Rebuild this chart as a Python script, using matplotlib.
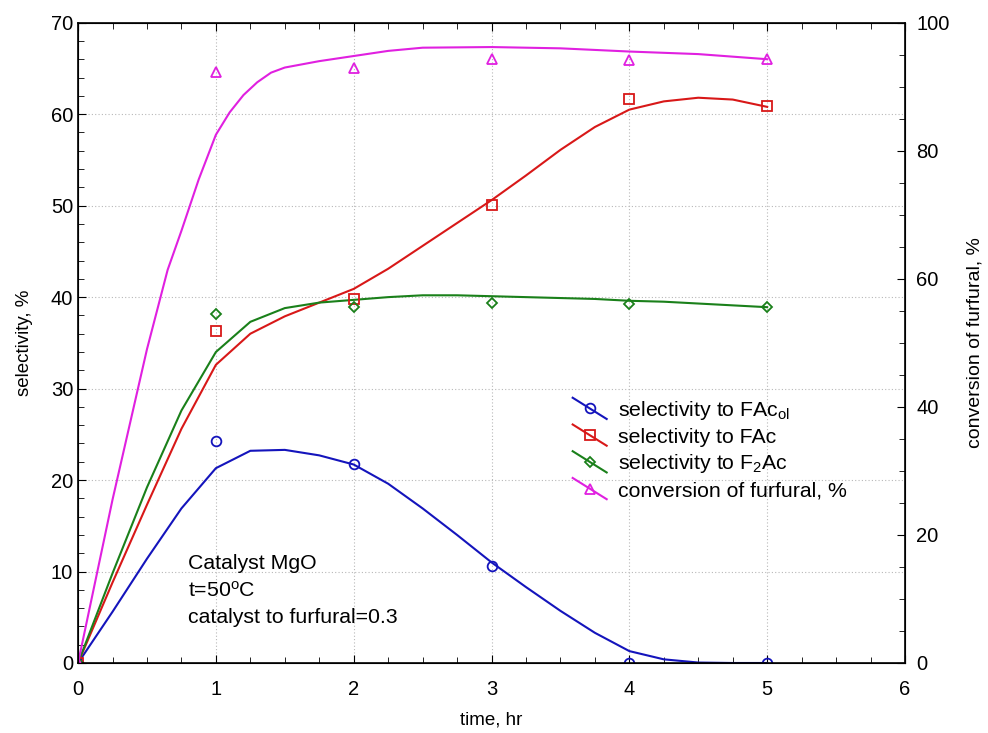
import matplotlib
matplotlib.use("Agg")
import matplotlib.pyplot as plt
import numpy as np
from matplotlib.legend_handler import HandlerLine2D
from matplotlib.lines import Line2D
from matplotlib.ticker import MultipleLocator

plt.rcParams['font.family'] = ['Liberation Sans', 'DejaVu Sans']
plt.rcParams['mathtext.fontset'] = 'custom'
plt.rcParams['mathtext.rm'] = 'Liberation Sans'
plt.rcParams['mathtext.it'] = 'Liberation Sans'

# measured points
t_pts = [0, 1, 2, 3, 4, 5]
fac_ol = [0, 24.3, 21.8, 10.6, 0, 0]
fac = [0, 36.3, 39.8, 50.1, 61.7, 60.9]
f2ac = [0, 38.2, 38.9, 39.4, 39.2, 38.9]
conv = [0, 92.3, 92.9, 94.4, 94.2, 94.4]

# fitted curves
t_c = [0, 0.25, 0.5, 0.75, 1, 1.25, 1.5, 1.75, 2, 2.25, 2.5, 2.75, 3, 3.25, 3.5,
       3.75, 4, 4.25, 4.5, 4.75, 5]
fac_ol_c = [0, 5.6, 11.4, 16.9, 21.3, 23.2, 23.3, 22.7, 21.7, 19.6, 16.9, 14.0,
            11.0, 8.3, 5.7, 3.3, 1.3, 0.4, 0.05, 0, 0]
fac_c = [0, 8.8, 17.3, 25.6, 32.6, 36.0, 37.9, 39.4, 40.9, 43.1, 45.6, 48.1,
         50.6, 53.3, 56.1, 58.6, 60.5, 61.4, 61.8, 61.6, 60.8]
f2ac_c = [0, 9.8, 19.2, 27.6, 34.0, 37.3, 38.8, 39.4, 39.7, 40.0, 40.2, 40.2,
          40.1, 40.0, 39.9, 39.8, 39.6, 39.5, 39.3, 39.1, 38.9]
t_conv_c = [0, 0.25, 0.5, 0.65, 0.75, 0.875, 1, 1.1, 1.2, 1.3, 1.4, 1.5, 1.75,
            2, 2.25, 2.5, 3, 3.5, 4, 4.5, 5]
conv_c = [0, 25.5, 49.0, 61.4, 67.5, 75.5, 82.5, 86.0, 88.7, 90.7, 92.2, 93.0,
          94.0, 94.8, 95.6, 96.1, 96.2, 96.0, 95.5, 95.1, 94.3]

labels = ['selectivity to FAc$_{\\mathrm{ol}}$', 'selectivity to FAc',
          'selectivity to F$_{2}$Ac', 'conversion of furfural, %']
note = ['Catalyst MgO', 't=50$^{\\mathrm{o}}$C', 'catalyst to furfural=0.3']

c_blue = '#1414bc'
c_red = '#d81818'
c_green = '#1a801a'
c_mag = '#e020e0'


class DiagHandler(HandlerLine2D):
    # diagonal legend key with marker in the middle
    def create_artists(self, legend, orig_handle, xdescent, ydescent,
                       width, height, fontsize, trans):
        x0, x1 = -xdescent, -xdescent + width
        ytop = -ydescent + height + 0.15 * fontsize
        ybot = -ydescent - 0.15 * fontsize
        ln = Line2D([x0, x1], [ytop, ybot])
        self.update_prop(ln, orig_handle, legend)
        ln.set_marker('None')
        mk = Line2D([(x0 + x1) / 2], [(ytop + ybot) / 2])
        self.update_prop(mk, orig_handle, legend)
        mk.set_linestyle('None')
        ln.set_transform(trans)
        mk.set_transform(trans)
        return [ln, mk]


fig = plt.figure(figsize=(9.88, 7.33), dpi=100)
ax = fig.add_axes([0.079, 0.0955, 0.837, 0.8735])
ax2 = ax.twinx()

lw = 1.5
ms = 7
mew = 1.3
ax.plot(t_c, fac_ol_c, color=c_blue, lw=lw)
ax.plot(t_c, fac_c, color=c_red, lw=lw)
ax.plot(t_c, f2ac_c, color=c_green, lw=lw)
ax2.plot(t_conv_c, conv_c, color=c_mag, lw=lw)

ax.plot(t_pts, fac_ol, 'o', mfc='none', mec=c_blue, ms=ms, mew=mew)
ax.plot(t_pts, fac, 's', mfc='none', mec=c_red, ms=ms, mew=mew)
ax.plot(t_pts, f2ac, 'D', mfc='none', mec=c_green, ms=ms - 1.5, mew=mew)
ax2.plot(t_pts, conv, '^', mfc='none', mec=c_mag, ms=ms, mew=mew)

handles = [
    Line2D([], [], color=c_blue, lw=lw, marker='o', mfc='none', mec=c_blue, ms=ms, mew=mew),
    Line2D([], [], color=c_red, lw=lw, marker='s', mfc='none', mec=c_red, ms=ms, mew=mew),
    Line2D([], [], color=c_green, lw=lw, marker='D', mfc='none', mec=c_green, ms=ms - 1.5, mew=mew),
    Line2D([], [], color=c_mag, lw=lw, marker='^', mfc='none', mec=c_mag, ms=ms, mew=mew),
]
leg = ax.legend(handles, labels, loc='upper left', bbox_to_anchor=(0.575, 0.4425),
                frameon=False, fontsize=15.3, handlelength=1.6, handletextpad=0.55,
                labelspacing=0.27, borderpad=0.4,
                handler_map={Line2D: DiagHandler()})

ax.text(0.133, 0.17, '\n'.join(note), transform=ax.transAxes, fontsize=15.3,
        va='top', ha='left', linespacing=1.47)

ax.set_xlim(0, 6)
ax.set_ylim(0, 70)
ax2.set_ylim(0, 100)
ax.xaxis.set_major_locator(MultipleLocator(1))
ax.xaxis.set_minor_locator(MultipleLocator(0.25))
ax.yaxis.set_major_locator(MultipleLocator(10))
ax.yaxis.set_minor_locator(MultipleLocator(2))
ax2.yaxis.set_major_locator(MultipleLocator(20))
ax2.yaxis.set_minor_locator(MultipleLocator(5))

ax.tick_params(which='both', direction='in', top=True, right=False, labelsize=14.5)
ax.tick_params(which='major', length=6)
ax.tick_params(which='minor', length=4)
ax.tick_params(axis='x', pad=12)
ax2.tick_params(which='both', direction='in', labelsize=14.5)
ax2.tick_params(which='major', length=6)
ax2.tick_params(which='minor', length=4)
ax2.tick_params(axis='y', pad=8)

ax.grid(True, which='major', color='#b8b8b8', ls=(0, (1, 2)), lw=0.8)
for sp in ax.spines.values():
    sp.set_linewidth(1.2)

ax.set_xlabel('time, hr', fontsize=13.5, labelpad=9)
ax.set_ylabel('selectivity, %', fontsize=13.5, labelpad=13)
ax2.set_ylabel('conversion of furfural, %', fontsize=14, labelpad=12)

fig.savefig('out.png', dpi=100)
